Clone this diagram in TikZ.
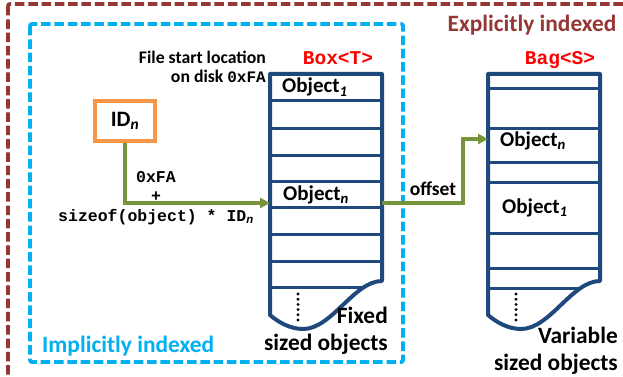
\documentclass[tikz,border=0pt]{standalone}
\usepackage{fontspec}
\setmainfont{Carlito}
\newfontfamily\codefont{Liberation Mono}
\usetikzlibrary{arrows.meta}

\definecolor{outerbrown}{RGB}{149,55,53}
\definecolor{innerblue}{RGB}{0,176,240}
\definecolor{slotblue}{RGB}{31,73,125}
\definecolor{linkgreen}{RGB}{119,147,60}
\definecolor{idorange}{RGB}{247,150,70}
\definecolor{typered}{RGB}{255,0,0}

\newcommand\subit[1]{\textsubscript{\itshape #1}}
% outline of a storage column whose bottom edge is torn
\newcommand\storeoutline{(270,74) -- (382,74) -- (382,281)
  .. controls (354,281) and (332,329) .. (303,329)
  .. controls (290,329) and (278,322) .. (270,315) -- cycle}

\tikzset{
  x=1pt, y=-1pt,
  regionline/.style={line width=3.8pt, dash pattern=on 9.5pt off 3.8pt, rounded corners=2pt},
  slotframe/.style={draw=slotblue, line width=4pt, line join=round},
  slotrule/.style={draw=slotblue, line width=3pt},
  link/.style={draw=linkgreen, line width=3.8pt, -{Triangle[length=10pt,width=10pt]}},
  bigtext/.style={font=\bfseries\fontsize{23.4}{26}\selectfont, inner sep=0pt},
  objtext/.style={font=\bfseries\fontsize{21}{24}\selectfont, inner sep=0pt, anchor=base west},
  notetext/.style={font=\bfseries\fontsize{23.4}{27}\selectfont, inner sep=0pt, align=right, anchor=base east},
  codetext/.style={font=\codefont\bfseries\fontsize{16.5}{19.5}\selectfont, inner sep=0pt},
  typetext/.style={font=\codefont\bfseries\fontsize{19.5}{21}\selectfont, text=typered, inner sep=0pt, anchor=base},
  idbox/.style={draw=idorange, line width=3.5pt, minimum width=60pt, minimum height=40pt,
    font=\bfseries\fontsize{22}{24}\selectfont, inner sep=0pt},
  dotmark/.style={fill=black},
}

\begin{document}
\begin{tikzpicture}
\useasboundingbox (0,0) rectangle (623,377);
\clip (0,0) rectangle (623,377);
\fill[white] (0,0) rectangle (623,377);

% regions
\draw[regionline, draw=outerbrown] (8,4) rectangle (660,420);
\draw[regionline, draw=innerblue] (30,24) rectangle (403,362);

\node[bigtext, text=outerbrown, anchor=base] (explicit) at (532,32) {Explicitly indexed};
\node[bigtext, text=innerblue, anchor=base west] (implicit) at (42,352) {Implicitly indexed};

% Box<T>: fixed-size slots
\begin{scope}
  \clip \storeoutline;
  \foreach \yy in {101,128,155,181.5,207,234,261,287}
    \draw[slotrule] (260,\yy) -- (392,\yy);
\end{scope}
\draw[slotframe] \storeoutline;
\foreach \k in {0,...,5}
  \fill[dotmark] (298,294+5.2*\k) circle (1.6pt);

% Bag<S>: variable-size slots
\begin{scope}[xshift=218pt]
  \begin{scope}
    \clip \storeoutline;
    \foreach \yy in {89,128,162,182,233,268,288}
      \draw[slotrule] (260,\yy) -- (392,\yy);
  \end{scope}
  \draw[slotframe] \storeoutline;
  \foreach \k in {0,...,5}
    \fill[dotmark] (298,294+5.2*\k) circle (1.6pt);
\end{scope}

\node[typetext] (boxT) at (338,65) {Box<T>};
\node[typetext] (bagS) at (560,65) {Bag<S>};

% multi-line nodes are placed by the baseline of their last line
\node[font=\bfseries\fontsize{17.7}{19}\selectfont, inner sep=0pt, align=right, anchor=base east]
  (start) at (266,83) {File start location\\on disk {\codefont\fontsize{16}{19}\selectfont 0xFA}};

\node[objtext] (boxobj1) at (282,93) {Object\subit{1}};
\node[objtext] (boxobjn) at (283,200) {Object\subit{n}};
\node[objtext] (bagobjn) at (500,146) {Object\subit{n}};
\node[objtext] (bagobj1) at (502,213) {Object\subit{1}};

\node[notetext] (fixed) at (388,350) {Fixed\\sized objects};
\node[notetext] (variable) at (618,370) {Variable\\sized objects};

% lookup by identifier
\node[idbox] (id) at (125,121) {ID\subit{n}};
\coordinate (boxin) at (270,203);
\coordinate (boxout) at (382,203);
\coordinate (bagin) at (488,139);

\node[codetext, align=center, anchor=base] (calc) at (156,221)
  {0xFA\\+\\sizeof(object) * ID\subit{n}};

\draw[link] (id.south) |- (boxin);
\draw[link] (boxout) -- ([xshift=81pt]boxout) |- (bagin);
\node[font=\bfseries\fontsize{19.5}{22}\selectfont, inner sep=0pt, anchor=base] (offset) at (433,195) {offset};
\end{tikzpicture}
\end{document}
